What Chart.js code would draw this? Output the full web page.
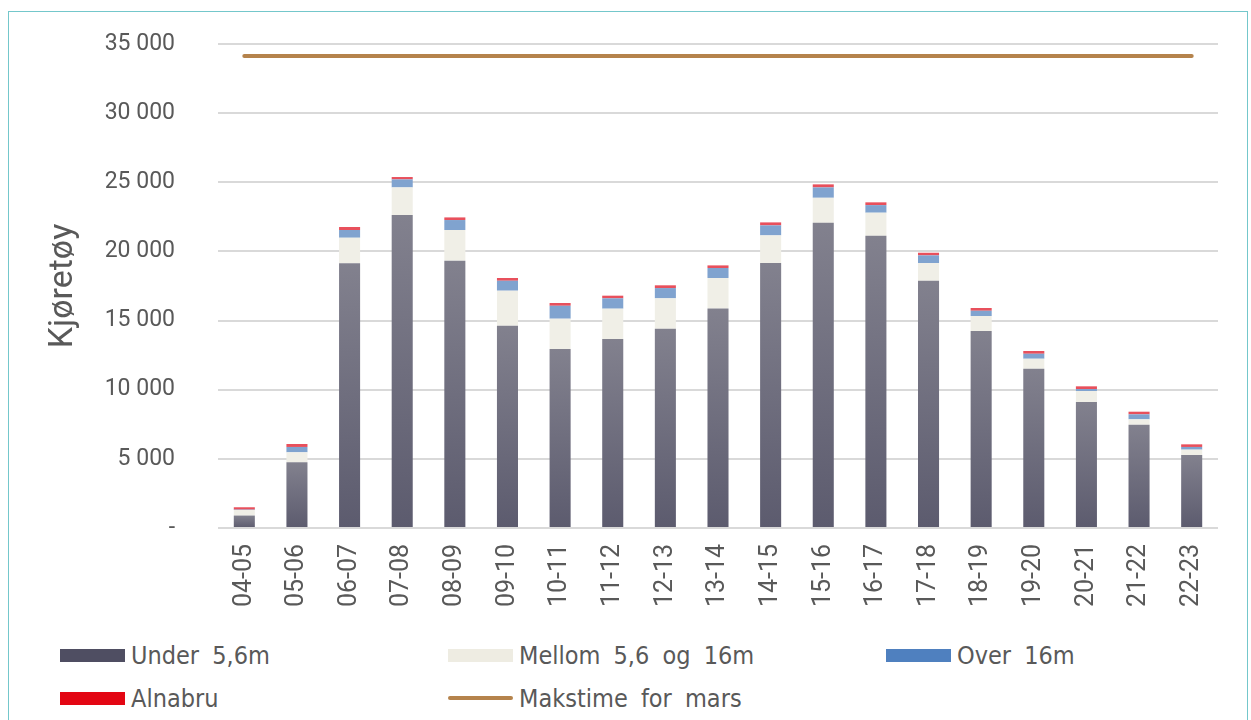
<!DOCTYPE html>
<html>
<head>
<meta charset="utf-8">
<script src="https://cdn.jsdelivr.net/npm/chart.js@4"></script>
<style>
    body { margin: 0; background: #fff; }
    #wrap { position: relative; width: 1251px; height: 720px; overflow: hidden; }
    #frame { position: absolute; left: 8px; top: 11px; width: 1238px; height: 740px; border: 1.5px solid #74c7cb; }
    #chart { position: absolute; left: 0; top: 0; }
    .item { position: absolute; display: flex; align-items: center; font-family: "Liberation Sans Narrow", "DejaVu Sans Condensed", sans-serif; font-size: 25px; color: #595959; word-spacing: 6px; }
    .sw { width: 65px; height: 13px; margin-right: 6px; }
    .ln { width: 65px; height: 4px; border-radius: 2px; margin-right: 6px; }
</style>
</head>
<body>
<div id="wrap">
    <div id="frame"></div>
    <canvas id="chart" width="1251" height="620"></canvas>
    <div id="legend"></div>
</div>
<script>
// data
const categories = ["04-05", "05-06", "06-07", "07-08", "08-09", "09-10", "10-11", "11-12", "12-13", "13-14",
    "14-15", "15-16", "16-17", "17-18", "18-19", "19-20", "20-21", "21-22", "22-23"];

const under = [900, 4750, 19150, 22630, 19330, 14630, 12940, 13670, 14410, 15880,
    19160, 22070, 21135, 17880, 14245, 11520, 9110, 7470, 5280];
const mellom = [400, 725, 1840, 2000, 2220, 2530, 2195, 2190, 2200, 2200,
    2000, 1810, 1665, 1280, 1085, 720, 795, 390, 385];
const over = [30, 385, 560, 580, 720, 720, 935, 750, 740, 720,
    725, 750, 550, 555, 380, 360, 145, 360, 195];
const alnabru = [170, 215, 215, 170, 190, 200, 200, 190, 200, 190,
    215, 220, 200, 190, 200, 200, 195, 190, 190];
const makstime = categories.map(() => 34130);

const yTicks = [0, 5000, 10000, 15000, 20000, 25000, 30000, 35000];

// gradient for the dark bars, per bar
function underFill(ctx) {
    const chart = ctx.chart;
    if (!chart.chartArea) return '#6b6a7b';
    const y = chart.scales.y;
    const top = y.getPixelForValue(ctx.raw);
    const bottom = y.getPixelForValue(0);
    const g = chart.ctx.createLinearGradient(0, top, 0, bottom);
    g.addColorStop(0, '#82818e');
    g.addColorStop(1, '#5c5b6e');
    return g;
}

const fmt = (v) => v === 0 ? '-' : v.toLocaleString('en-US').replace(',', ' ');

const chart = new Chart(document.getElementById('chart'), {
    type: 'bar',
    data: {
        labels: categories,
        datasets: [
            { label: 'Under 5,6m', data: under, backgroundColor: underFill, legendColor: '#4f4e62', order: 2 },
            { label: 'Mellom 5,6 og 16m', data: mellom, backgroundColor: '#f0efe7', legendColor: '#eeece2', order: 2 },
            { label: 'Over 16m', data: over, backgroundColor: '#80a3cf', legendColor: '#4f80bf', order: 2 },
            { label: 'Alnabru', data: alnabru, backgroundColor: '#e8505c', legendColor: '#e30613', order: 2 },
            { label: 'Makstime for mars', data: makstime, type: 'line', borderColor: '#b5834c', legendColor: '#b5834c',
              borderWidth: 4, pointRadius: 0, borderCapStyle: 'round', order: 1 }
        ]
    },
    options: {
        responsive: false,
        animation: false,
        layout: { padding: { top: 44, right: 33, left: 0, bottom: 0 } },
        datasets: { bar: { barPercentage: 0.4, categoryPercentage: 1 } },
        plugins: { legend: { display: false }, tooltip: { enabled: false } },
        scales: {
            x: {
                stacked: true,
                grid: { display: false },
                border: { display: false },
                ticks: {
                    color: '#595959', font: { family: 'Roboto', size: 25 },
                    minRotation: 90, maxRotation: 90, padding: 8, autoSkip: false
                },
                afterFit: (s) => { s.height = 92; s.paddingTop = 0; s.paddingBottom = 0; }
            },
            y: {
                stacked: true,
                min: 0, max: 35000,
                afterBuildTicks: (s) => { s.ticks = yTicks.map(v => ({ value: v })); },
                grid: { color: '#d9d9d9', lineWidth: 2, drawTicks: false },
                border: { display: false },
                ticks: {
                    color: '#595959', font: { family: 'Roboto', size: 23 }, padding: 43,
                    callback: (v) => fmt(v)
                },
                title: {
                    display: true, text: 'Kjøretøy', color: '#595959',
                    font: { family: 'Roboto', size: 34 }, padding: { top: 43, bottom: 0 }
                },
                afterFit: (s) => { s.width = 218; s.paddingTop = 0; s.paddingBottom = 0; }
            }
        }
    }
});

// legend built from the datasets
const cols = [60, 448, 886];
const rows = [655, 698];
const legend = document.getElementById('legend');
chart.data.datasets.forEach((ds, i) => {
    const el = document.createElement('div');
    el.className = 'item';
    el.style.left = cols[i % 3] + 'px';
    el.style.top = (rows[Math.floor(i / 3)] - 15) + 'px';
    el.style.height = '30px';
    const sw = document.createElement('span');
    sw.className = ds.type === 'line' ? 'ln' : 'sw';
    sw.style.background = ds.legendColor;
    const tx = document.createElement('span');
    tx.textContent = ds.label;
    el.appendChild(sw);
    el.appendChild(tx);
    legend.appendChild(el);
});
</script>
</body>
</html>
